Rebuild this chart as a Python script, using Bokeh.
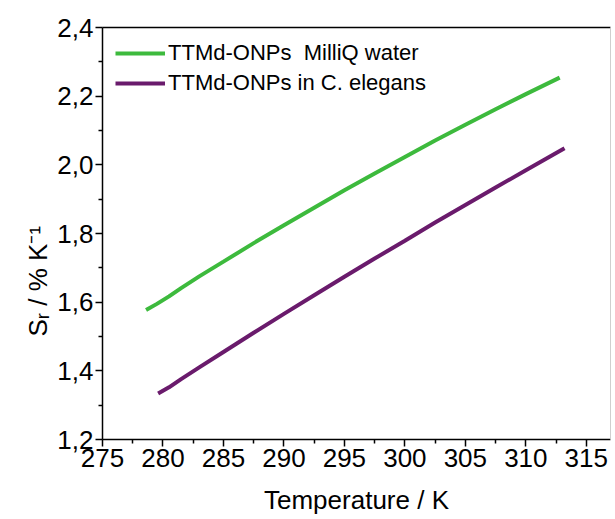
from bokeh.plotting import figure
from bokeh.models import (Range1d, FixedTicker, CustomJSTickFormatter,
                          Legend, LegendItem, LinearAxis, Title)
from bokeh.embed import file_html
from bokeh.resources import INLINE

# ---- data ----
temp_water = [278.6, 279.5, 280.5, 281.5, 283.0, 285.0, 287.5, 290.0, 292.5,
              295.0, 297.5, 300.0, 302.5, 305.0, 307.5, 310.0, 312.8]
sr_water = [1.577, 1.595, 1.617, 1.641, 1.675, 1.718, 1.772, 1.824, 1.875,
            1.926, 1.975, 2.023, 2.071, 2.117, 2.162, 2.206, 2.254]

temp_worm = [279.6, 280.5, 281.5, 283.0, 285.0, 287.5, 290.0, 292.5, 295.0,
             297.5, 300.0, 302.5, 305.0, 307.5, 310.0, 313.2]
sr_worm = [1.334, 1.352, 1.376, 1.410, 1.455, 1.511, 1.566, 1.620, 1.674,
           1.727, 1.779, 1.832, 1.883, 1.934, 1.984, 2.048]

series_names = ["TTMd-ONPs  MilliQ water", "TTMd-ONPs in C. elegans"]
x_ticks = [275, 280, 285, 290, 295, 300, 305, 310, 315]
x_minor = [277.5, 282.5, 287.5, 292.5, 297.5, 302.5, 307.5, 312.5]
y_ticks = [1.2, 1.4, 1.6, 1.8, 2.0, 2.2, 2.4]
y_minor = [1.3, 1.5, 1.7, 1.9, 2.1, 2.3]
x_title = "Temperature / K"
y_title = "S\u1d63 / % K\u207b\u00b9"

GREEN = "#3dba3d"
PURPLE = "#6a1b6c"
FONT = "Liberation Sans"

p = figure(width=614, height=519, output_backend="svg", toolbar_location=None,
           x_range=Range1d(275, 317), y_range=Range1d(1.2, 2.4),
           min_border_left=102, min_border_right=4, min_border_top=27,
           min_border_bottom=80)
p.xgrid.visible = False
p.ygrid.visible = False
p.outline_line_color = None
p.background_fill_color = "white"
p.border_fill_color = "white"

r1 = p.line(temp_water, sr_water, line_color=GREEN, line_width=4)
r2 = p.line(temp_worm, sr_worm, line_color=PURPLE, line_width=4)

for ax in (p.xaxis[0], p.yaxis[0]):
    ax.axis_line_color = "black"
    ax.axis_line_width = 1.5
    ax.major_tick_line_color = "black"
    ax.major_tick_line_width = 1.5
    ax.minor_tick_line_color = "black"
    ax.minor_tick_line_width = 1.5
    ax.major_tick_out = 7
    ax.major_tick_in = 0
    ax.minor_tick_out = 4
    ax.minor_tick_in = 0
    ax.major_label_text_font = FONT
    ax.major_label_text_font_size = "26px"
    ax.major_label_text_color = "black"
    ax.axis_label_text_font = FONT
    ax.axis_label_text_font_size = "26px"
    ax.axis_label_text_font_style = "normal"
    ax.axis_label_text_color = "black"

p.xaxis[0].ticker = FixedTicker(ticks=x_ticks, minor_ticks=x_minor)
p.yaxis[0].ticker = FixedTicker(ticks=y_ticks, minor_ticks=y_minor)
p.yaxis[0].formatter = CustomJSTickFormatter(
    code="return tick.toFixed(1).replace('.', ',');")
p.xaxis[0].major_label_standoff = 2
p.yaxis[0].major_label_standoff = 2

p.xaxis[0].axis_label = x_title
p.xaxis[0].axis_label_standoff = 15

# y title as a side title, anchored from the frame bottom like in the reference
ytitle = Title(text=y_title, align="left", offset=103, standoff=4,
               text_font=FONT, text_font_size="26px", text_font_style="normal",
               text_color="black")
p.add_layout(ytitle, "left")

# frame top and right edges
top_ax = LinearAxis(ticker=FixedTicker(ticks=[]), major_label_text_font_size="0px",
                    axis_line_color="black", axis_line_width=1.5,
                    major_tick_line_color=None, minor_tick_line_color=None,
                    major_label_standoff=0)
p.add_layout(top_ax, "above")
right_ax = LinearAxis(ticker=FixedTicker(ticks=[]), major_label_text_font_size="0px",
                      axis_line_color="#cfcfcf", axis_line_width=1,
                      major_tick_line_color=None, minor_tick_line_color=None,
                      major_label_standoff=0)
p.add_layout(right_ax, "right")

legend = Legend(items=[LegendItem(label=series_names[0], renderers=[r1]),
                       LegendItem(label=series_names[1], renderers=[r2])],
                location="top_left")
legend.border_line_color = None
legend.background_fill_alpha = 0
legend.margin = 13
legend.padding = 0
legend.spacing = 4
legend.glyph_width = 50
legend.glyph_height = 24
legend.label_height = 24
legend.label_standoff = 3
legend.label_text_font = FONT
legend.label_text_font_size = "22px"
legend.label_text_color = "black"
p.add_layout(legend)

open("out.html", "w").write(file_html(p, INLINE))
